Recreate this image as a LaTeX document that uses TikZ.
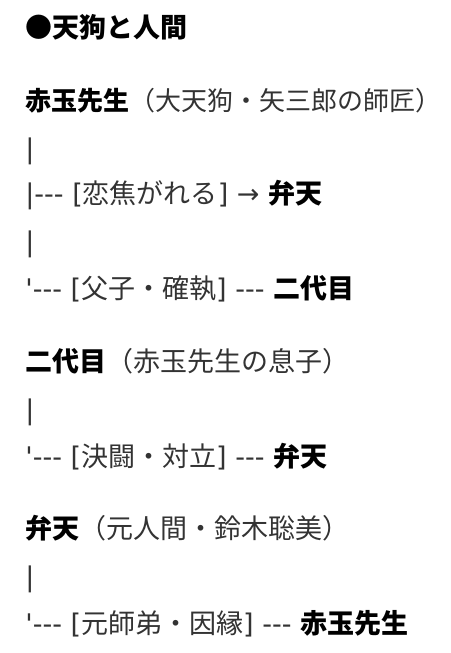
\documentclass[tikz,border=0pt]{standalone}
\usepackage{fontspec}
\newfontfamily\jpfont{Noto Sans CJK JP}
\newfontfamily\latfont{DejaVu Sans}
\newcommand\la[1]{{\latfont #1}}

\begin{document}
\begin{tikzpicture}[x=0.5pt,y=-0.5pt,
  txt/.style={anchor=base west,inner sep=0pt,text=black!80,
    font=\jpfont\fontsize{13.5}{15}\selectfont},
  narrow/.style={font=\jpfont\fontsize{13}{15}\selectfont}]
  \useasboundingbox (0,0) rectangle (450,653);
  % title
  \node[txt,text=black] (title) at (25,37) {\bfseries ●天狗と人間};
  % akadama
  \node[txt,narrow] (akadama) at (25,110) {\textbf{\color{black}赤玉先生}（大天狗・矢三郎の師匠）};
  \node[txt] (barA) at (25,158) {\la{|}};
  \node[txt] (relA) at (25,203) {\la{|--- [}恋焦がれる\la{] → }\textbf{\color{black}弁天}};
  \node[txt] (barB) at (25,251) {\la{|}};
  \node[txt] (relB) at (25,298) {\la{\char"0027--- [}父子・確執\la{] --- }\textbf{\color{black}二代目}};
  % nidaime
  \node[txt] (nidaime) at (25,371) {\textbf{\color{black}二代目}（赤玉先生の息子）};
  \node[txt] (barC) at (25,419) {\la{|}};
  \node[txt] (relC) at (25,466) {\la{\char"0027--- [}決闘・対立\la{] --- }\textbf{\color{black}弁天}};
  % benten
  \node[txt] (benten) at (25,538) {\textbf{\color{black}弁天}（元人間・鈴木聡美）};
  \node[txt] (barD) at (25,586) {\la{|}};
  \node[txt] (relD) at (25,633) {\la{\char"0027--- [}元師弟・因縁\la{] --- }\textbf{\color{black}赤玉先生}};
\end{tikzpicture}
\end{document}
